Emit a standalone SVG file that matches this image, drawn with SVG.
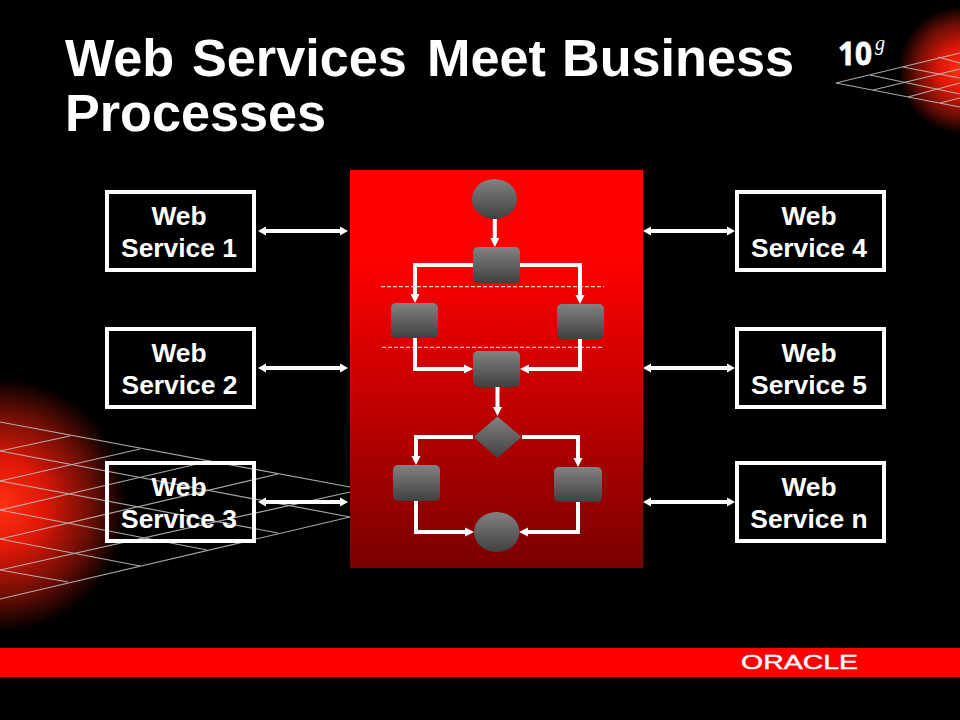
<svg xmlns="http://www.w3.org/2000/svg" width="960" height="720" viewBox="0 0 960 720">
<style>
.t{font-family:"Liberation Sans",Arial,sans-serif;font-weight:700;fill:#fff}
.title{font-size:52.2px}
.lbl{font-size:26.4px;text-anchor:middle}
.box{fill:none;stroke:#fff;stroke-width:4}
.grid{fill:none;stroke:#c4c4c4;stroke-width:1.200;opacity:.85}
.n{fill:url(#g)}
.c{fill:none;stroke:#fff;stroke-width:4;stroke-linejoin:miter;marker-end:url(#a)}
.d{fill:none;stroke:#fff;stroke-width:4;marker-start:url(#b);marker-end:url(#b)}
.dash{stroke:#fff;stroke-width:1;stroke-dasharray:4 2}
</style>
<defs>
<linearGradient id="g" x1="0" y1="0" x2="0" y2="1"><stop offset="0" stop-color="#828282"/><stop offset="1" stop-color="#404040"/></linearGradient>
<linearGradient id="p" x1="0" y1="0" x2="0" y2="1"><stop offset="0" stop-color="#f00"/><stop offset=".22" stop-color="#f00"/><stop offset="1" stop-color="#7a0000"/></linearGradient>
<radialGradient id="glow"><stop offset="0" stop-color="#ff3010"/><stop offset=".35" stop-color="#e01808"/><stop offset=".72" stop-color="#6c0e05"/><stop offset="1" stop-color="#000"/></radialGradient>
<marker id="a" markerUnits="userSpaceOnUse" markerWidth="12" markerHeight="12" refX="1" refY="6" orient="auto"><path d="M0,1.500 L9,6 L0,10.500z" fill="#fff"/></marker>
<marker id="b" markerUnits="userSpaceOnUse" markerWidth="10" markerHeight="12" refX="1" refY="6" orient="auto-start-reverse"><path d="M0,1.500 L8,6 L0,10.500z" fill="#fff"/></marker>
</defs>
<rect width="960" height="720" fill="#000"/>
<circle cx="0" cy="505" r="127" fill="url(#glow)"/>
<circle cx="962" cy="70" r="64" fill="url(#glow)"/>
<g class="grid">
<path d="M0,422L350,487M0,451L350,517M0,481L278,533M0,510L207,550M0,539L140,566M0,570L68,582"/>
<path d="M0,451L70,436M0,481L140,449M0,510L210,461M0,539L278,474M0,570L350,492M0,599L350,517"/>
<path d="M836,83L960,53M873,90L960,69M908,97L960,83M940,103L960,98"/>
<path d="M836,83L960,107M870,75L960,94M903,67L960,78M938,57L960,63"/>
</g>
<text class="t title" y="76" x="65">Web <tspan x="192">Services </tspan><tspan x="427">Meet </tspan><tspan x="562">Business</tspan></text>
<text class="t title" x="65" y="131">Processes</text>
<g id="logo10g">
<text x="838" y="65" font-family="'Noto Sans',sans-serif" font-weight="700" font-size="33" fill="#fff" stroke="#fff" stroke-width=".8" textLength="34" lengthAdjust="spacingAndGlyphs">10</text>
<text x="875" y="50" font-family="'Liberation Serif',serif" font-style="italic" font-size="20" fill="#fff">g</text>
</g>
<rect id="panel" x="350" y="170" width="293" height="398" fill="url(#p)"/>
<line class="dash" x1="381" y1="286.700" x2="604" y2="286.700"/>
<line class="dash" x1="382" y1="347.300" x2="604" y2="347.300"/>
<g id="connectors">
<path class="c" d="M494.800,219V239"/>
<path class="c" d="M473,265H415V295"/>
<path class="c" d="M520,265H580V296"/>
<path class="c" d="M415,338V369H465"/>
<path class="c" d="M580,339V369H528"/>
<path class="c" d="M497.500,387V408"/>
<path class="c" d="M473,437H416V457"/>
<path class="c" d="M522,437H578V459"/>
<path class="c" d="M416,501V532H466"/>
<path class="c" d="M578,502V532H527"/>
<path class="d" d="M265,231H341"/>
<path class="d" d="M265,368H341"/>
<path class="d" d="M265,502H341"/>
<path class="d" d="M650,231H728"/>
<path class="d" d="M650,368H728"/>
<path class="d" d="M650,502H728"/>
</g>
<g id="flow-start"><ellipse class="n" cx="494.500" cy="199" rx="22.500" ry="20"/></g>
<g id="flow-a"><rect class="n" x="473" y="247" width="47" height="36" rx="5"/></g>
<g id="flow-b"><rect class="n" x="391" y="303" width="47" height="35" rx="5"/></g>
<g id="flow-c"><rect class="n" x="557" y="304" width="47" height="35" rx="5"/></g>
<g id="flow-d"><rect class="n" x="473" y="351" width="47" height="36" rx="5"/></g>
<g id="flow-decision"><path class="n" d="M497.500,416.500L521.500,437L497.500,458L473.500,437Z"/></g>
<g id="flow-e"><rect class="n" x="393" y="465" width="47" height="36" rx="5"/></g>
<g id="flow-f"><rect class="n" x="554" y="467" width="48" height="35" rx="5"/></g>
<g id="flow-end"><ellipse class="n" cx="496.700" cy="532" rx="22.700" ry="20"/></g>
<g id="ws1"><rect class="box" x="107" y="192" width="147" height="78"/><text class="t lbl" x="179" y="225">Web</text><text class="t lbl" x="179" y="257">Service 1</text></g>
<g id="ws2"><rect class="box" x="107" y="329" width="147" height="78"/><text class="t lbl" x="179" y="362">Web</text><text class="t lbl" x="179.500" y="394">Service 2</text></g>
<g id="ws3"><rect class="box" x="107" y="463" width="147" height="78"/><text class="t lbl" x="179" y="496">Web</text><text class="t lbl" x="179" y="528">Service 3</text></g>
<g id="ws4"><rect class="box" x="737" y="192" width="147" height="78"/><text class="t lbl" x="809" y="225">Web</text><text class="t lbl" x="809" y="257">Service 4</text></g>
<g id="ws5"><rect class="box" x="737" y="329" width="147" height="78"/><text class="t lbl" x="809" y="362">Web</text><text class="t lbl" x="809" y="394">Service 5</text></g>
<g id="wsn"><rect class="box" x="737" y="463" width="147" height="78"/><text class="t lbl" x="809" y="496">Web</text><text class="t lbl" x="809" y="528">Service n</text></g>
<rect id="band" x="0" y="648" width="960" height="29" fill="#f00"/>
<text x="741" y="669" font-family="'Liberation Sans',sans-serif" font-size="19.500" fill="#fff" stroke="#fff" stroke-width=".4" textLength="117" lengthAdjust="spacingAndGlyphs">ORACLE</text>
</svg>
